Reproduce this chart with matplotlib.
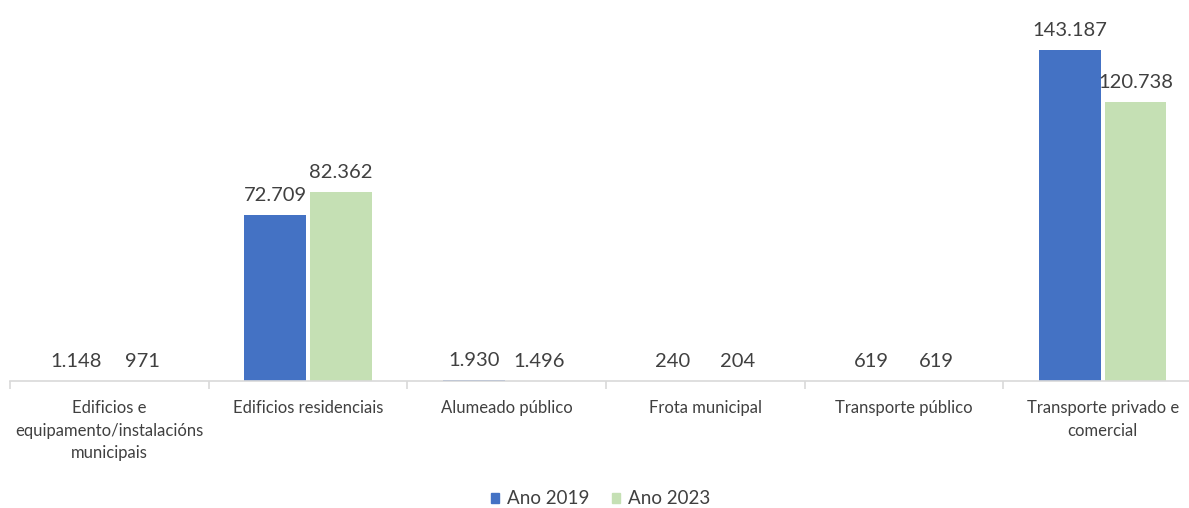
import matplotlib.pyplot as plt
import numpy as np
from matplotlib.patches import Patch

# datos
categorias = ['Edificios e\nequipamento/instalacións\nmunicipais', 'Edificios residenciais',
              'Alumeado público', 'Frota municipal', 'Transporte público',
              'Transporte privado e\ncomercial']
ano_2019 = [1148, 72709, 1930, 240, 619, 143187]
ano_2023 = [971, 82362, 1496, 204, 619, 120738]
etiquetas_2019 = ['1.148', '72.709', '1.930', '240', '619', '143.187']
etiquetas_2023 = ['971', '82.362', '1.496', '204', '619', '120.738']

plt.rcParams['font.family'] = ['Lato', 'DejaVu Sans']
gris = '#404040'
azul = '#4472c4'
verde = '#c5e0b4'

fig = plt.figure(figsize=(11.89, 5.08), dpi=100)
ax = fig.add_axes([10 / 1189, 127 / 508, 1192 / 1189, 381 / 508])

x = np.arange(len(categorias))
ancho = 0.31
ymin = 1500
b1 = ax.bar(x - 0.165, ano_2019, ancho, color=azul)
b2 = ax.bar(x + 0.165, ano_2023, ancho, color=verde)

for barras, etiquetas in [(b1, etiquetas_2019), (b2, etiquetas_2023)]:
    for b, t in zip(barras, etiquetas):
        ax.annotate(t, (b.get_x() + b.get_width() / 2, max(b.get_height(), ymin)),
                    xytext=(0, 8), textcoords='offset points',
                    ha='center', va='bottom', fontsize=14.5, color=gris)

ax.set_xlim(-0.5, 5.5)
ax.set_ylim(ymin, 164600)
ax.set_yticks([])
for s in ['top', 'right', 'left']:
    ax.spines[s].set_visible(False)
ax.spines['bottom'].set_color('#d9d9d9')
ax.spines['bottom'].set_linewidth(1.2)

ax.set_xticks(x)
ax.set_xticklabels(categorias, fontsize=12, color=gris, linespacing=1.5)
ax.tick_params(axis='x', which='major', length=0, pad=14)
ax.set_xticks(np.arange(-0.5, 6, 1), minor=True)
ax.tick_params(axis='x', which='minor', length=6, color='#d9d9d9', width=1.2)

handles = [Patch(color=azul, label='Ano 2019'), Patch(color=verde, label='Ano 2023')]
fig.legend(handles=handles, loc='center', bbox_to_anchor=(0.505, 0.018), ncol=2,
           frameon=False, fontsize=13.5, handlelength=0.45, handleheight=0.45,
           handletextpad=0.4, columnspacing=1.2, labelcolor=gris)

fig.savefig('out.png', dpi=100)
